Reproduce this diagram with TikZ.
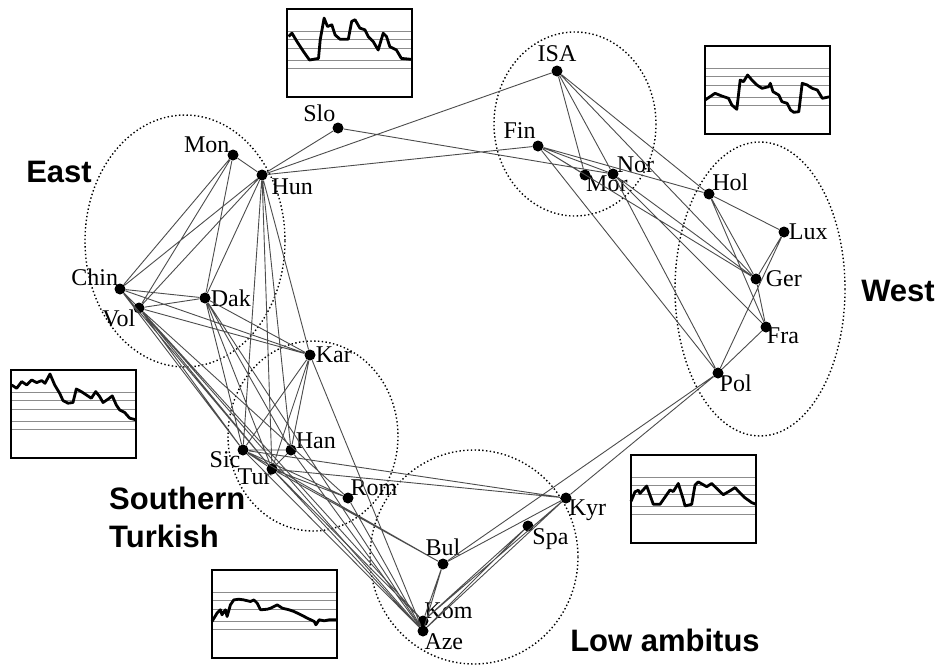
\documentclass[tikz,border=0pt]{standalone}
\usepackage{fontspec}
\setmainfont{Liberation Serif}
\newfontfamily\groupfont{Liberation Sans}
\tikzset{
    mydot/.style = {
        circle,
        fill=black,
        inner sep=0pt,
        minimum size=11pt
    },
    mylabel/.style = {
        font=\fontsize{24}{26}\selectfont,
        inner sep=1pt
    },
    mylink/.style = {
        draw=black!70,
        line width=0.9pt
    },
    mycluster/.style = {
        draw=black,
        line width=1.4pt,
        dash pattern=on 1.4pt off 2.4pt
    },
    mygroup/.style = {
        font=\groupfont\bfseries\fontsize{31}{38}\selectfont,
        align=left,
        inner sep=0pt
    },
    myframe/.style = {
        draw=black,
        line width=2pt
    },
    mygrid/.style = {
        draw=black!45,
        line width=1pt
    },
    mytrace/.style = {
        draw=black,
        line width=2.8pt,
        line join=round
    }
}

\begin{document}
\begin{tikzpicture}[x=1pt, y=-1pt, every label/.append style={mylabel}]
\useasboundingbox (0,0) rectangle (942,664);

% Grupos
\draw [mycluster] (185,241) ellipse [x radius=100, y radius=126];
\draw [mycluster] (313,436) ellipse [x radius=85, y radius=95];
\draw [mycluster] (474,557) ellipse [x radius=104, y radius=107];
\draw [mycluster] (575,124) ellipse [x radius=81, y radius=92];
\draw [mycluster] (760,289) ellipse [x radius=85, y radius=147];

% Nos
\node (isa) [mydot, label={[label distance=2pt]90:ISA}] at (557,71) {};
\node (slo) [mydot, label={[label distance=0pt]105:Slo}] at (338,128) {};
\node (fin) [mydot, label={[label distance=1pt]100:Fin}] at (538,146) {};
\node (mon) [mydot, label={[label distance=-3pt]150:Mon}] at (233,155) {};
\node (hun) [mydot, label={[label distance=3pt]-15:Hun}] at (262,175) {};
\node (mor) [mydot, label={[label distance=-6pt]-85:Mor}] at (585,175) {};
\node (nor) [mydot, label={[label distance=-3pt]10:Nor}] at (613,174) {};
\node (hol) [mydot, label={[label distance=-3pt]40:Hol}] at (709,194) {};
\node (lux) [mydot, label={[label distance=-2pt]0:Lux}] at (784,232) {};
\node (ger) [mydot, label={[label distance=3pt]0:Ger}] at (756,279) {};
\node (fra) [mydot, label={[label distance=-6pt]-35:Fra}] at (766,327) {};
\node (pol) [mydot, label={[label distance=-5pt]-40:Pol}] at (718,373) {};
\node (chin) [mydot, label={[label distance=-4pt]112:Chin}] at (120,289) {};
\node (vol) [mydot, label={[label distance=-3pt]-160:Vol}] at (139,308) {};
\node (dak) [mydot, label={[label distance=-1pt]0:Dak}] at (205,298) {};
\node (kar) [mydot, label={[label distance=-1pt]0:Kar}] at (310,355) {};
\node (sic) [mydot, label={[label distance=-4pt]-150:Sic}] at (243,450) {};
\node (han) [mydot, label={[label distance=-2pt]5:Han}] at (291,450) {};
\node (tur) [mydot, label={[label distance=-7pt]-125:Tur}] at (272,469) {};
\node (rom) [mydot, label={[label distance=-4pt]30:Rom}] at (348,498) {};
\node (kyr) [mydot, label={[label distance=-4pt]-15:Kyr}] at (566,498) {};
\node (spa) [mydot, label={[label distance=-2pt]-30:Spa}] at (528,526) {};
\node (bul) [mydot, label={[label distance=1pt]90:Bul}] at (443,564) {};
\node (kom) [mydot, label={[label distance=-5pt]70:Kom}] at (423,621) {};
\node (aze) [mydot, label={[label distance=-4pt]-80:Aze}] at (423,631) {};

% Ligacoes norte e oeste
\draw [mylink] (isa) -- (hun) (isa) -- (nor) (isa) -- (mor) (isa) -- (hol) (isa) -- (ger)
    (slo) -- (hun) (slo) -- (nor)
    (fin) -- (hun) (fin) -- (mor) (fin) -- (nor) (fin) -- (hol) (fin) -- (ger) (fin) -- (pol)
    (nor) -- (ger) (nor) -- (fra) (nor) -- (pol)
    (hol) -- (lux) (hol) -- (ger) (hol) -- (fra)
    (lux) -- (ger) (lux) -- (pol) (ger) -- (fra) (fra) -- (pol)
    (pol) -- (bul) (pol) -- (kyr);

% Ligacoes leste
\draw [mylink] (mon) -- (hun) (mon) -- (chin) (mon) -- (vol) (mon) -- (dak)
    (hun) -- (chin) (hun) -- (vol) (hun) -- (dak) (hun) -- (kar)
    (hun) -- (sic) (hun) -- (tur) (hun) -- (han)
    (chin) -- (vol) (chin) -- (dak) (vol) -- (dak)
    (chin) -- (kar) (vol) -- (kar) (dak) -- (kar)
    (dak) -- (sic) (dak) -- (tur) (dak) -- (han) (dak) -- (aze)
    (chin) -- (sic) (chin) -- (tur)
    (vol) -- (sic) (vol) -- (tur) (vol) -- (rom) (vol) -- (kom) (vol) -- (aze);

% Ligacoes sul
\draw [mylink] (kar) -- (sic) (kar) -- (han) (kar) -- (tur) (kar) -- (aze)
    (sic) -- (han) (sic) -- (tur) (han) -- (tur)
    (sic) -- (kyr) (tur) -- (kyr)
    (sic) -- (rom) (tur) -- (rom) (sic) -- (bul) (tur) -- (bul)
    (tur) -- (kom) (tur) -- (aze) (sic) -- (aze) (han) -- (aze) (rom) -- (aze)
    (bul) -- (kom) (bul) -- (aze) (bul) -- (kyr)
    (spa) -- (kom) (spa) -- (aze) (kyr) -- (kom) (kyr) -- (aze);

% Nomes dos grupos
\node (east) [mygroup] at (59,172) {East};
\node (west) [mygroup] at (898,291) {West};
\node (south) [mygroup, anchor=west] at (109,517) {Southern\\Turkish};
\node (low) [mygroup] at (665,640) {Low ambitus};

% Graficos de contorno
\begin{scope}[shift={(287,9)}]
    \foreach \g in {22,30,39,51,59} \draw [mygrid] (0,\g) -- (125,\g);
    \draw [mytrace] plot coordinates {(1.7,27.5) (5,24.2) (10,32.6) (16.6,42.7) (22.5,51) (31.5,49.4) (33.2,30.9) (37.1,9.1) (40.5,17.5) (44.8,15.8) (48.1,25.9) (53,30.2) (61.3,30.2) (64.7,12.4) (68,10.7) (72.9,19.1) (77.9,20.8) (81.2,27.5) (86.2,32.6) (91.2,41) (96.2,24.2) (99.5,27.5) (102.8,37.6) (109.4,41) (114.4,49.4) (125,50.4)};
    \draw [myframe] (0,0) rectangle (125,88);
\end{scope}
\begin{scope}[shift={(705,46)}]
    \foreach \g in {22,30,39,51,59} \draw [mygrid] (0,\g) -- (125,\g);
    \draw [mytrace] plot coordinates {(0,54) (5,50.7) (10,47.3) (16.8,50) (23.5,52.3) (26.8,59) (31.8,63.3) (35.2,34) (38.5,35.7) (42.6,29) (46.9,34) (51.9,39) (57,42.3) (63.7,40.7) (65.3,37.3) (68,45.7) (73.7,49) (77,55.7) (82.1,57.3) (85.5,64) (88.8,66.3) (93.8,65.7) (97.2,37.3) (102.2,39) (107.2,42.3) (112.3,44) (117.3,52.3) (125,50.7)};
    \draw [myframe] (0,0) rectangle (125,88);
\end{scope}
\begin{scope}[shift={(11,370)}]
    \foreach \g in {22,30,39,51,59} \draw [mygrid] (0,\g) -- (125,\g);
    \draw [mytrace] plot coordinates {(0.7,15) (5.7,18.3) (10.7,11.6) (15.7,14.9) (20.7,10) (25.7,12.6) (30.7,10.6) (34,13.3) (39,4) (43.7,15) (48.7,23.3) (52,30.6) (57,33.2) (62,32.5) (65.3,19) (70.3,21.6) (75.3,24.9) (80.3,28.2) (84.7,21.6) (88.7,26.6) (92,32.5) (97,29.2) (101.3,25.9) (105.3,35) (108.7,40) (113.7,42.5) (118.7,48.2) (125,49.8)};
    \draw [myframe] (0,0) rectangle (125,88);
\end{scope}
\begin{scope}[shift={(631,455)}]
    \foreach \g in {22,30,39,51,59} \draw [mygrid] (0,\g) -- (125,\g);
    \draw [mytrace] plot coordinates {(0,46.4) (4,36.8) (7.3,35.2) (9,38.4) (15.7,31) (22.3,49.3) (29,49.3) (35.7,39.7) (39,35) (42.3,36.5) (47.3,28.5) (52.3,44.5) (54,50.9) (60.7,49.3) (64,30.1) (67.3,26.9) (75.7,31.7) (80.7,28.5) (87.3,35) (92.3,39.7) (99,35.8) (104,32.6) (109,38) (114,42.8) (120.7,47.6) (125,49.3)};
    \draw [myframe] (0,0) rectangle (125,88);
\end{scope}
\begin{scope}[shift={(212,570)}]
    \foreach \g in {22,30,39,51,59} \draw [mygrid] (0,\g) -- (125,\g);
    \draw [mytrace] plot coordinates {(0,51.5) (5,43.2) (8.4,39.8) (10,44.8) (13.4,39.8) (15.1,46.5) (18.4,34.9) (21.8,29.9) (26.8,29.2) (31.8,29.9) (38.5,31.5) (41.9,29.9) (45.2,33.2) (48.6,39.8) (55.3,39.2) (58.6,38.2) (65.3,34.9) (70.4,38.2) (77.1,39.8) (82.1,41.5) (88.8,44.8) (95.5,48.2) (102.2,51.5) (103.9,54.8) (107.2,49.8) (112.3,50.8) (117.3,49.8) (125,49.8)};
    \draw [myframe] (0,0) rectangle (125,88);
\end{scope}

\end{tikzpicture}
\end{document}
